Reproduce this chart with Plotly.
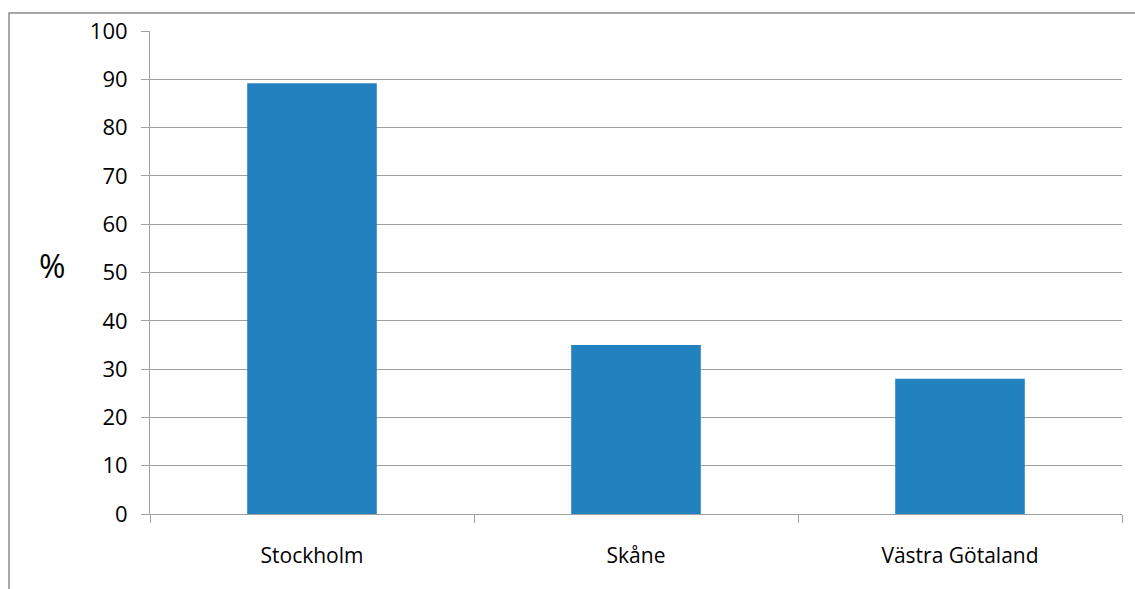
import plotly.graph_objects as go

categories = ["Stockholm", "Skåne", "Västra Götaland"]
values = [89.2, 35.0, 28.0]
y_ticks = [0, 10, 20, 30, 40, 50, 60, 70, 80, 90, 100]

W, H = 1135, 589
L, R, T, B = 150, 13, 31, 75
pw, ph = W - L - R, H - T - B

fig = go.Figure(go.Bar(x=categories, y=values, marker=dict(color="#2281bf", line=dict(width=0)),
                       width=0.4))

fig.update_layout(
    width=W, height=H, margin=dict(l=L, r=R, t=T, b=B),
    paper_bgcolor="white", plot_bgcolor="white", showlegend=False,
    font=dict(family="Open Sans", size=21, color="#000000"), bargap=0.6,
)
fig.update_xaxes(showgrid=False, showline=True, linecolor="#a0a0a0", linewidth=1,
                 ticks="outside", tickson="boundaries", ticklen=8, tickcolor="#a0a0a0",
                 ticklabelstandoff=23, tickfont=dict(family="Open Sans", size=21, color="#000000"))
fig.update_yaxes(range=[0, 100], tickvals=y_ticks, showgrid=True, gridcolor="#a0a0a0", gridwidth=1,
                 showline=True, linecolor="#a0a0a0", linewidth=1, ticks="outside", ticklen=8,
                 tickcolor="#a0a0a0", ticklabelstandoff=9, zeroline=False,
                 tickfont=dict(family="Open Sans", size=22, color="#000000"))

fig.add_annotation(text="%", xref="paper", yref="paper", x=(52 - L) / pw, y=(514 - 265) / ph,
                   showarrow=False, font=dict(family="Open Sans", size=32, color="#000000"),
                   xanchor="center", yanchor="middle")
fig.add_shape(type="rect", xref="paper", yref="paper",
              x0=(9 - L) / pw, x1=(W + 20 - L) / pw, y0=-(H + 20 - 514) / ph, y1=1 + (31 - 13) / ph,
              line=dict(color="#8c8c8c", width=1.5), fillcolor="rgba(0,0,0,0)", layer="below")

fig.write_html("out.html")
